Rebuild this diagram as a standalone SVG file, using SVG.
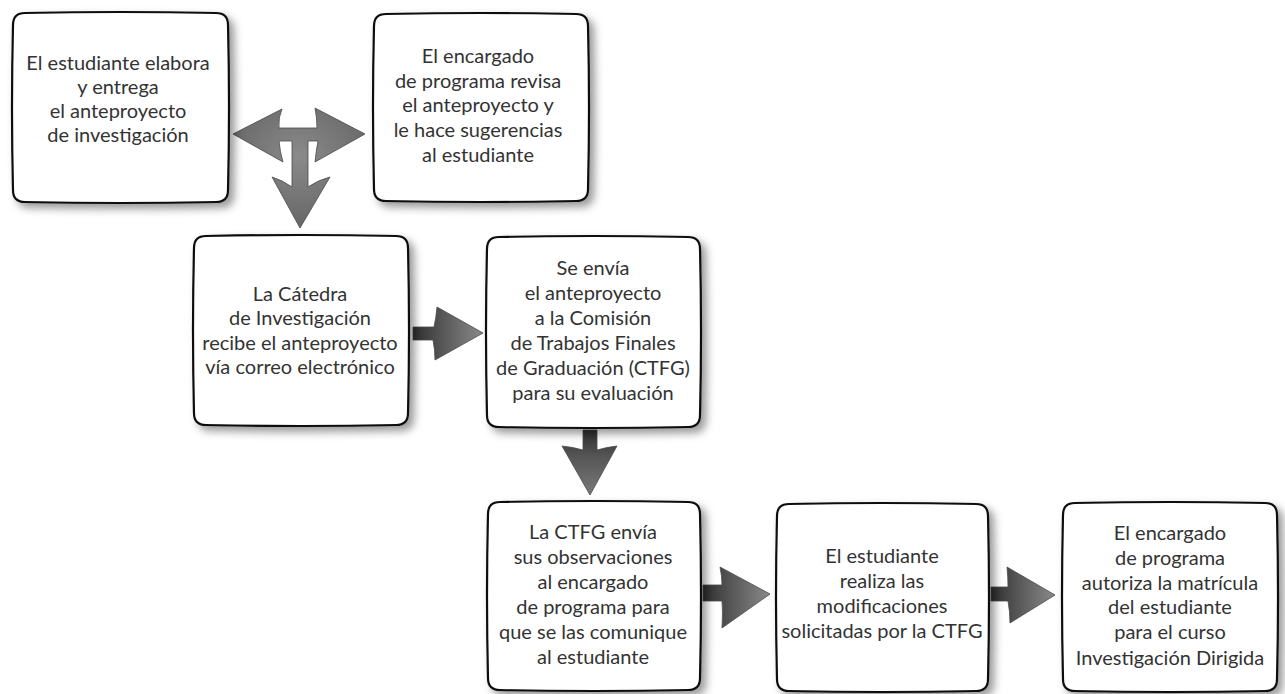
<svg xmlns="http://www.w3.org/2000/svg" width="1285" height="694" viewBox="0 0 1285 694">
  <defs>
    <filter id="shadow" x="-10%" y="-10%" width="130%" height="130%">
      <feDropShadow dx="5" dy="5" stdDeviation="4" flood-color="#000" flood-opacity="0.4"/>
    </filter>
    <linearGradient id="gh" x1="0" y1="0" x2="1" y2="0">
      <stop offset="0" stop-color="#2e2e2e"/>
      <stop offset="0.4" stop-color="#555"/>
      <stop offset="1" stop-color="#8a8a8a"/>
    </linearGradient>
    <linearGradient id="gv" x1="0" y1="0" x2="0" y2="1">
      <stop offset="0" stop-color="#2e2e2e"/>
      <stop offset="0.4" stop-color="#555"/>
      <stop offset="1" stop-color="#7a7a7a"/>
    </linearGradient>
    <radialGradient id="gt" cx="0.5" cy="0.4" r="0.6">
      <stop offset="0" stop-color="#8a8a8a"/>
      <stop offset="1" stop-color="#666"/>
    </radialGradient>
  </defs>
  <style>
    .box { fill: #ffffff; stroke: #111; stroke-width: 2.2; filter: url(#shadow); }
    .lbl { font-family: Lato, "Open Sans", "Liberation Sans", sans-serif; font-size: 20px; fill: #333; text-anchor: middle; }
    .arr { stroke: #4a4a4a; stroke-width: 0.8; }
  </style>
  <rect width="1285" height="694" fill="#ffffff"/>

  <g id="connectors">
    <path class="arr" fill="url(#gt)" d="M233,134 L282,109 Q278,118 279,128 L317,128 Q317,118 315,108 L365,134 L315,162 Q316,151 318,141 L308,141 L308,187 Q318,180 330,177 L300,228 L272,177 Q282,180 292,187 L292,141 L279,141 Q280,152 283,162 Z"/>
    <path class="arr" fill="url(#gh)" d="M413,327 L434,327 Q436,318 437,307 L483,333 L435,360 Q435,350 433,340 L413,340 Z"/>
    <path class="arr" fill="url(#gv)" d="M583,430 L597,430 L597,450 Q607,447 617,446 L590,495 L562,446 Q573,447 583,450 Z"/>
    <path class="arr" fill="url(#gh)" d="M703,585 L722,585 Q722,576 720,567 L770,594 L722,628 Q723,612 722,601 L703,601 Z"/>
    <path class="arr" fill="url(#gh)" d="M991,587 L1008,587 Q1008,577 1007,567 L1055,595 L1010,623 Q1010,612 1008,601 L991,601 Z"/>
  </g>

  <g id="n1">
    <path class="box" d="M25,13 Q120.5,11 216,13 Q228,13 228,25 Q230,107.5 228,190 Q228,202 216,202 Q120.5,204 25,202 Q13,202 13,190 Q11,107.5 13,25 Q13,13 25,13 Z"/>
    <text class="lbl" x="118" y="70">El estudiante elabora</text>
    <text class="lbl" x="118" y="94">y entrega</text>
    <text class="lbl" x="118" y="118">el anteproyecto</text>
    <text class="lbl" x="118" y="142">de investigación</text>
  </g>

  <g id="n2">
    <path class="box" d="M386,14 Q481,12 576,14 Q588,14 588,26 Q590,107.5 588,189 Q588,201 576,201 Q481,203 386,201 Q374,201 374,189 Q372,107.5 374,26 Q374,14 386,14 Z"/>
    <text class="lbl" x="478" y="63">El encargado</text>
    <text class="lbl" x="478" y="88">de programa revisa</text>
    <text class="lbl" x="478" y="112">el anteproyecto y</text>
    <text class="lbl" x="478" y="137">le hace sugerencias</text>
    <text class="lbl" x="478" y="162">al estudiante</text>
  </g>

  <g id="n3">
    <path class="box" d="M206,236 Q301,234 396,236 Q408,236 408,248 Q410,330 408,413 Q408,425 396,425 Q301,427 206,425 Q194,425 194,413 Q192,330 194,248 Q194,236 206,236 Z"/>
    <text class="lbl" x="300" y="301">La Cátedra</text>
    <text class="lbl" x="300" y="325">de Investigación</text>
    <text class="lbl" x="300" y="350">recibe el anteproyecto</text>
    <text class="lbl" x="300" y="374">vía correo electrónico</text>
  </g>

  <g id="n4">
    <path class="box" d="M499,237 Q593.5,235 688,237 Q700,237 700,249 Q702,332 700,415 Q700,427 688,427 Q593.5,429 499,427 Q487,427 487,415 Q485,332 487,249 Q487,237 499,237 Z"/>
    <text class="lbl" x="593" y="275">Se envía</text>
    <text class="lbl" x="593" y="300">el anteproyecto</text>
    <text class="lbl" x="593" y="325">a la Comisión</text>
    <text class="lbl" x="593" y="350">de Trabajos Finales</text>
    <text class="lbl" x="593" y="375">de Graduación (CTFG)</text>
    <text class="lbl" x="593" y="400">para su evaluación</text>
  </g>

  <g id="n5">
    <path class="box" d="M500,502 Q594,500 688,502 Q700,502 700,514 Q702,596 700,678 Q700,690 688,690 Q594,692 500,690 Q488,690 488,678 Q486,596 488,514 Q488,502 500,502 Z"/>
    <text class="lbl" x="593" y="539">La CTFG envía</text>
    <text class="lbl" x="593" y="564">sus observaciones</text>
    <text class="lbl" x="593" y="589">al encargado</text>
    <text class="lbl" x="593" y="614">de programa para</text>
    <text class="lbl" x="593" y="639">que se las comunique</text>
    <text class="lbl" x="593" y="664">al estudiante</text>
  </g>

  <g id="n6">
    <path class="box" d="M789,504 Q882.5,502 976,504 Q988,504 988,516 Q990,597.5 988,679 Q988,691 976,691 Q882.5,693 789,691 Q777,691 777,679 Q775,597.5 777,516 Q777,504 789,504 Z"/>
    <text class="lbl" x="882" y="563">El estudiante</text>
    <text class="lbl" x="882" y="588">realiza las</text>
    <text class="lbl" x="882" y="613">modificaciones</text>
    <text class="lbl" x="882" y="638">solicitadas por la CTFG</text>
  </g>

  <g id="n7">
    <path class="box" d="M1075,503 Q1170,501 1265,503 Q1277,503 1277,515 Q1279,597 1277,679 Q1277,691 1265,691 Q1170,693 1075,691 Q1063,691 1063,679 Q1061,597 1063,515 Q1063,503 1075,503 Z"/>
    <text class="lbl" x="1170" y="540">El encargado</text>
    <text class="lbl" x="1170" y="565">de programa</text>
    <text class="lbl" x="1170" y="590">autoriza la matrícula</text>
    <text class="lbl" x="1170" y="614">del estudiante</text>
    <text class="lbl" x="1170" y="639">para el curso</text>
    <text class="lbl" x="1170" y="665">Investigación Dirigida</text>
  </g>
</svg>
